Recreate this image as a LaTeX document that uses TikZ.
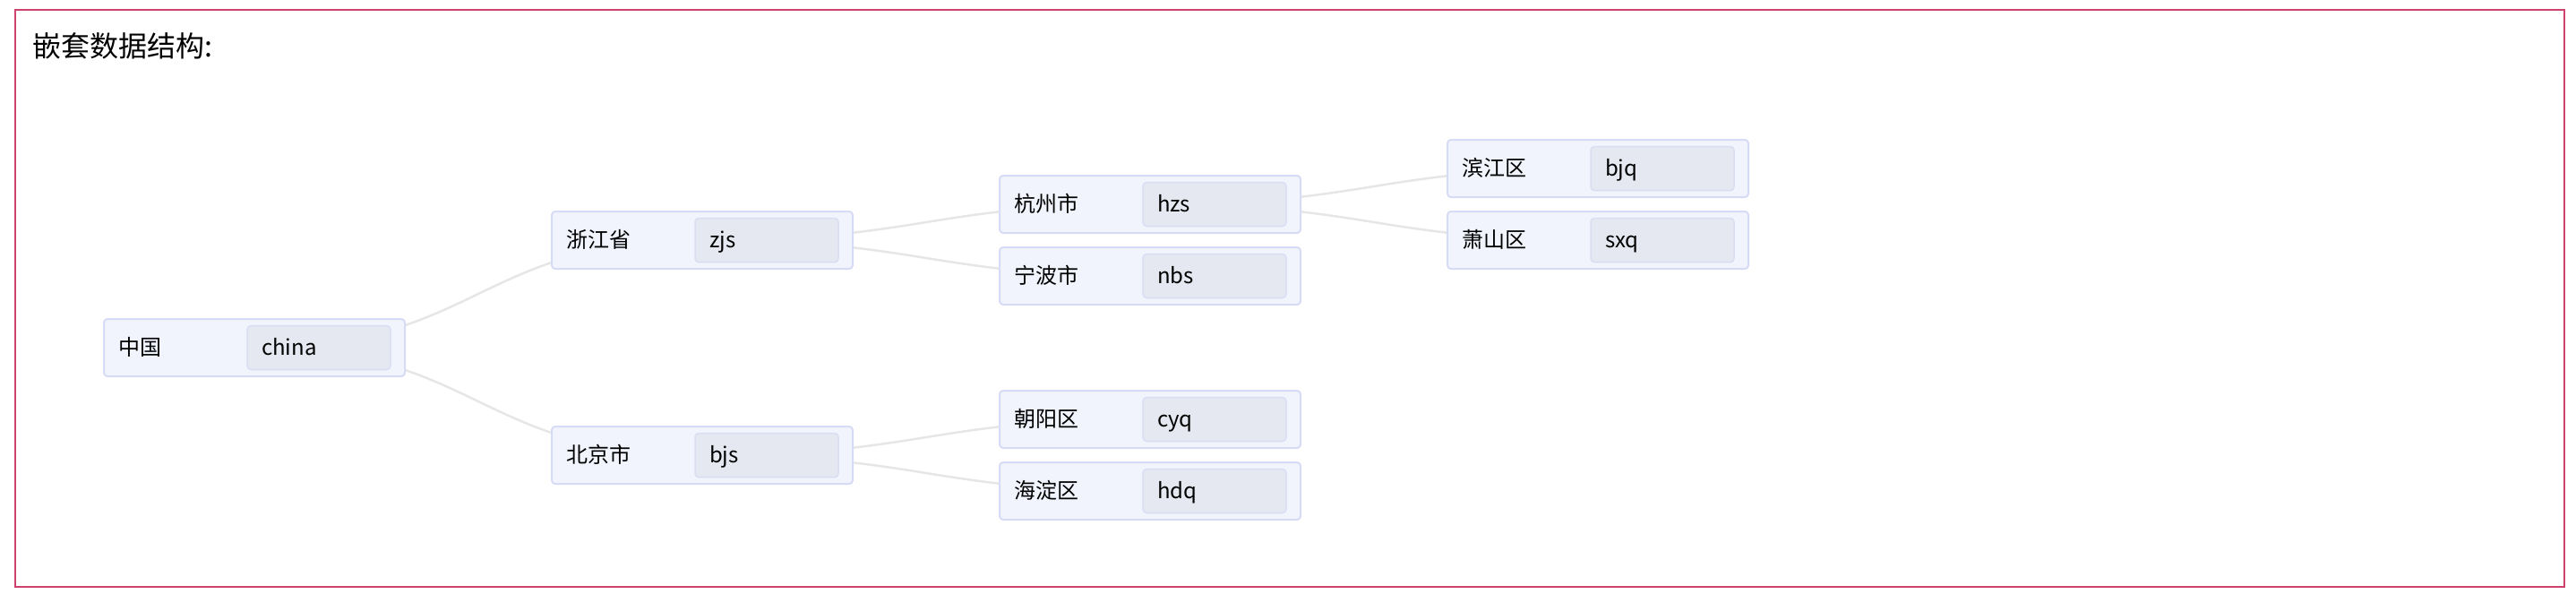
\documentclass[tikz,border=0pt]{standalone}
\usepackage{fontspec}
\setmainfont{Noto Sans CJK SC}
\usetikzlibrary{positioning,backgrounds}
\definecolor{framered}{RGB}{205,67,110}
\definecolor{keyfill}{RGB}{241,244,253}
\definecolor{keyline}{RGB}{214,220,245}
\definecolor{valfill}{RGB}{229,232,240}
\definecolor{valline}{RGB}{218,222,243}
\definecolor{linkgray}{RGB}{230,230,230}
\begin{document}
\begin{tikzpicture}[font=\fontsize{6.83pt}{8pt}\selectfont,
keybox/.style={draw=keyline,line width=0.2mm,outer sep=0pt,rounded corners=0.4mm,fill=keyfill,minimum width=33.6mm,minimum height=6.4mm,text width=30.4mm,text height=2mm,text depth=0.28mm,inner xsep=1.6mm,align=left},
valbox/.style={draw=valline,line width=0.15mm,outer sep=0pt,rounded corners=0.4mm,fill=valfill,minimum height=4.9mm,text width=12.8mm,text height=2mm,text depth=0.28mm,inner xsep=1.6mm,align=left},
link/.style={draw=linkgray,line width=0.25mm}]
\useasboundingbox (0,0) rectangle (287.6mm,-67.2mm);
\draw[framered,line width=0.2mm] (1.67mm,-1.1mm) rectangle (286.3mm,-65.5mm);
\node[anchor=west,inner sep=0pt,font=\fontsize{9.1pt}{11pt}\selectfont] (title) at (3.55mm,-5.1mm) {嵌套数据结构:};
\node[keybox] (china) at (28.4mm,-38.8mm) {中国};
\node[keybox,right=16.4mm of china,yshift=12mm] (zjs) {浙江省};
\node[keybox,below=17.6mm of zjs] (bjs) {北京市};
\node[keybox,right=16.4mm of zjs,yshift=4mm] (hzs) {杭州市};
\node[keybox,below=1.6mm of hzs] (nbs) {宁波市};
\node[keybox,right=16.4mm of hzs,yshift=4mm] (bjq) {滨江区};
\node[keybox,below=1.6mm of bjq] (sxq) {萧山区};
\node[keybox,right=16.4mm of bjs,yshift=4mm] (cyq) {朝阳区};
\node[keybox,below=1.6mm of cyq] (hdq) {海淀区};
\foreach \n in {china,zjs,bjs,hzs,nbs,bjq,sxq,cyq,hdq}
  \node[valbox,left=1.6mm of \n.east] (\n-v) {\n};
\begin{pgfonlayer}{background}
\foreach \a/\b in {china/zjs,china/bjs,zjs/hzs,zjs/nbs,hzs/bjq,hzs/sxq,bjs/cyq,bjs/hdq}
  \draw[link] (\a.center) .. controls +(25mm,0) and +(-25mm,0) .. (\b.center);
\end{pgfonlayer}
\end{tikzpicture}
\end{document}
